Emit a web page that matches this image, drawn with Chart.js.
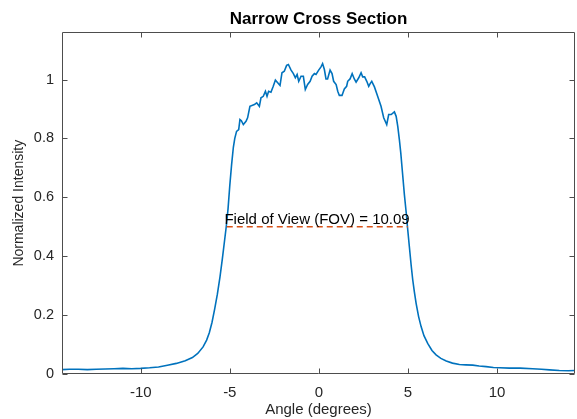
<!DOCTYPE html>
<html>
<head>
<meta charset="utf-8">
<script src="https://cdn.jsdelivr.net/npm/chart.js@4/dist/chart.umd.min.js"></script>
<style>
  html, body { margin: 0; padding: 0; background: #ffffff; }
  #wrap { width: 577px; height: 419px; position: relative; }
</style>
</head>
<body>
<div id="wrap"><canvas id="c" width="577" height="419"></canvas></div>
<script>
// ---- data ----
const angles = [
  -14.42, -14.0, -13.5, -13.0, -12.5, -12.0, -11.5, -11.0, -10.5, -10.0,
  -9.5, -9.0, -8.5, -8.0, -7.5, -7.1, -6.8, -6.5, -6.3, -6.15,
  -6.0, -5.85, -5.7, -5.55, -5.42, -5.3, -5.2, -5.1, -5.0, -4.9,
  -4.8, -4.72, -4.62, -4.5, -4.43, -4.35, -4.24, -4.09, -4.0, -3.87,
  -3.62, -3.49, -3.34, -3.25, -3.12, -3.0, -2.91, -2.82, -2.69, -2.56,
  -2.44, -2.31, -2.18, -2.07, -1.94, -1.81, -1.71, -1.56, -1.43, -1.32,
  -1.22, -1.13, -1.0, -0.87, -0.76, -0.63, -0.49, -0.38, -0.25, -0.16,
  -0.01, 0.12, 0.21, 0.31, 0.40, 0.49, 0.63, 0.74, 0.83, 0.97,
  1.06, 1.15, 1.30, 1.43, 1.56, 1.62, 1.75, 1.87, 1.99, 2.09,
  2.24, 2.37, 2.46, 2.57, 2.69, 2.80, 2.88, 2.97, 3.12, 3.30,
  3.49, 3.64, 3.81, 3.92, 4.06, 4.24, 4.34, 4.43, 4.52, 4.6,
  4.7, 4.8, 4.9, 4.99, 5.08, 5.18, 5.27, 5.36, 5.46, 5.6,
  5.74, 5.9, 6.11, 6.35, 6.58, 6.85, 7.15, 7.5, 7.89, 8.25,
  8.64, 9.0, 9.39, 9.8, 10.14, 10.7, 11.3, 12.0, 12.5, 12.95,
  13.5, 14.0, 14.38
];
const intensity = [
  0.015, 0.016, 0.016, 0.015, 0.016, 0.017, 0.018, 0.019, 0.018, 0.019,
  0.021, 0.024, 0.030, 0.036, 0.045, 0.056, 0.070, 0.092, 0.115, 0.140,
  0.175, 0.220, 0.270, 0.330, 0.390, 0.450, 0.500, 0.560, 0.640, 0.710,
  0.770, 0.800, 0.824, 0.830, 0.864, 0.860, 0.847, 0.858, 0.870, 0.909,
  0.915, 0.921, 0.909, 0.938, 0.943, 0.960, 0.943, 0.960, 0.957, 0.977,
  0.998, 0.989, 0.980, 1.023, 1.028, 1.048, 1.051, 1.032, 1.020, 1.006,
  1.017, 0.994, 1.011, 1.011, 0.966, 0.983, 0.994, 1.011, 1.020, 1.017,
  1.032, 1.043, 1.054, 1.034, 1.002, 1.002, 1.032, 1.020, 0.994, 0.983,
  0.960, 0.946, 0.946, 0.968, 0.977, 0.994, 1.002, 1.020, 1.002, 0.991,
  1.006, 1.023, 1.009, 1.009, 0.994, 0.977, 0.986, 0.994, 0.975, 0.943,
  0.909, 0.870, 0.847, 0.881, 0.881, 0.890, 0.875, 0.841, 0.796, 0.750,
  0.680, 0.610, 0.550, 0.490, 0.433, 0.370, 0.320, 0.280, 0.240, 0.195,
  0.161, 0.130, 0.104, 0.080, 0.065, 0.053, 0.044, 0.037, 0.032, 0.031,
  0.030, 0.027, 0.025, 0.022, 0.021, 0.020, 0.020, 0.018, 0.016, 0.014,
  0.012, 0.011, 0.012
];
const fovAngles = [-5.17, 5.0];
const fovLevel = [0.5, 0.5];
const fovText = 'Field of View (FOV) = 10.09';
const xTicks = [-10, -5, 0, 5, 10];
const yTicks = [0, 0.2, 0.4, 0.6, 0.8, 1];
const xRange = [-14.42, 14.38];
const yRange = [0, 1.16];

const FONT = '"Liberation Sans", Arial, Helvetica, sans-serif';
const AX = '#262626';

const boxPlugin = {
  id: 'matlabBox',
  afterDraw(chart) {
    const ctx = chart.ctx;
    const a = chart.chartArea;
    const xs = chart.scales.x, ys = chart.scales.y;
    const L = Math.round(a.left) + 0.5, R = Math.round(a.right) - 0.5;
    const T = Math.round(a.top) + 0.5, B = Math.round(a.bottom) - 0.5;
    ctx.save();
    ctx.strokeStyle = '#4d4d4d';
    ctx.lineWidth = 1;
    ctx.beginPath();
    ctx.rect(L, T, R - L, B - T);
    const tl = 5;
    xTicks.forEach(v => {
      const px = Math.round(xs.getPixelForValue(v)) + 0.5;
      ctx.moveTo(px, B); ctx.lineTo(px, B - tl);
      ctx.moveTo(px, T); ctx.lineTo(px, T + tl);
    });
    yTicks.forEach(v => {
      const py = Math.round(ys.getPixelForValue(v)) + 0.5;
      ctx.moveTo(L, py); ctx.lineTo(L + tl, py);
      ctx.moveTo(R, py); ctx.lineTo(R - tl, py);
    });
    ctx.stroke();
    ctx.restore();
  }
};

const labelPlugin = {
  id: 'fovLabel',
  afterDatasetsDraw(chart) {
    const ctx = chart.ctx;
    const xs = chart.scales.x, ys = chart.scales.y;
    ctx.save();
    ctx.fillStyle = '#000000';
    ctx.font = '15px ' + FONT;
    ctx.textAlign = 'left';
    ctx.textBaseline = 'middle';
    ctx.fillText(fovText, xs.getPixelForValue(-5.3), ys.getPixelForValue(0.524));
    ctx.restore();
  }
};

new Chart(document.getElementById('c'), {
  type: 'line',
  data: {
    datasets: [
      {
        label: 'FOV',
        data: fovAngles.map((x, i) => ({ x, y: fovLevel[i] })),
        borderColor: '#D95319',
        borderWidth: 1.5,
        borderDash: [6, 4],
        pointRadius: 0,
        fill: false,
        order: 0
      },
      {
        label: 'Cross section',
        data: angles.map((x, i) => ({ x, y: intensity[i] })),
        borderColor: '#0072BD',
        borderWidth: 1.6,
        pointRadius: 0,
        tension: 0,
        fill: false,
        order: 1
      }
    ]
  },
  options: {
    responsive: false,
    animation: false,
    events: [],
    layout: { padding: { top: 0, right: 2, bottom: 0, left: 0 } },
    plugins: {
      legend: { display: false },
      tooltip: { enabled: false },
      title: {
        display: true,
        text: 'Narrow Cross Section',
        fullSize: false,
        color: '#000000',
        font: { family: FONT, size: 17, weight: 'bold' },
        padding: { top: 9, bottom: 3 }
      }
    },
    scales: {
      x: {
        type: 'linear',
        min: xRange[0],
        max: xRange[1],
        afterBuildTicks: s => { s.ticks = xTicks.map(v => ({ value: v })); },
        afterFit: s => { s.height = 45; },
        grid: { display: false, drawTicks: false, tickLength: 0 },
        border: { display: false },
        ticks: { color: AX, font: { family: FONT, size: 15 }, padding: 10, maxRotation: 0,
                 callback: v => String(v) },
        title: { display: true, text: 'Angle (degrees)', color: AX,
                 font: { family: FONT, size: 15 }, padding: { top: 0, bottom: 0 } }
      },
      y: {
        type: 'linear',
        min: yRange[0],
        max: yRange[1],
        afterBuildTicks: s => { s.ticks = yTicks.map(v => ({ value: v })); },
        afterFit: s => { s.width = 62; },
        grid: { display: false, drawTicks: false, tickLength: 0 },
        border: { display: false },
        ticks: { color: AX, font: { family: FONT, size: 14.5 }, padding: 8,
                 callback: v => String(v) },
        title: { display: true, text: 'Normalized Intensity', color: AX,
                 font: { family: FONT, size: 14 }, padding: { top: 11, bottom: 0 } }
      }
    }
  },
  plugins: [boxPlugin, labelPlugin]
});
</script>
</body>
</html>
